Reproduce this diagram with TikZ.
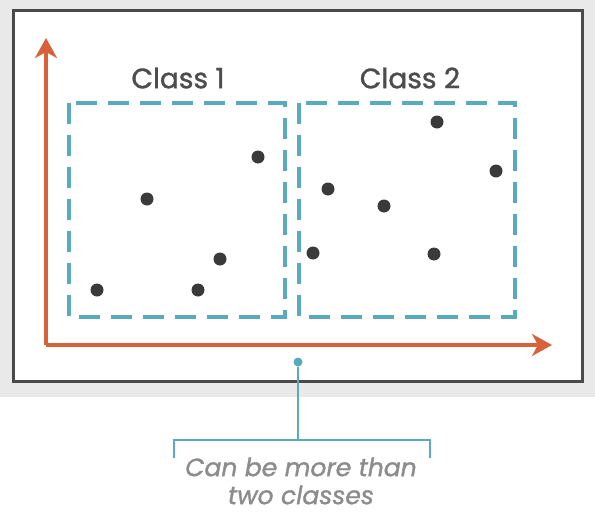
\documentclass[tikz,border=0pt]{standalone}
\usepackage{fontspec}
\setmainfont{Poppins}[FakeBold=1.3]
\usetikzlibrary{arrows.meta,positioning}
\definecolor{axisorange}{HTML}{D8613C}
\definecolor{classteal}{HTML}{5AAABD}
\definecolor{dotgray}{HTML}{3A3A3A}
\definecolor{framegray}{HTML}{4A4A4A}
\definecolor{bggray}{HTML}{E9E9E9}
\definecolor{notegray}{HTML}{8C8C8C}
\definecolor{labelgray}{HTML}{4D4D4D}
\tikzset{
  pointstyle/.style={circle, inner sep = 0pt, minimum size = 13pt, fill = dotgray},
  classbox/.style={draw = classteal, line width = 3.2pt, dash pattern = on 21pt off 11pt},
  axisline/.style={line width = 3.2pt, axisorange, -{Stealth[length=20pt,width=22pt,inset=6pt]}},
  calloutline/.style={line width = 2.8pt, classteal},
  classlabel/.style={font = \fontsize{28}{32}\selectfont, text = labelgray}
}

\begin{document}
\begin{tikzpicture}[x=1pt, y=-1pt]
    \useasboundingbox (0,0) rectangle (595,525);
    \fill[bggray] (0,0) rectangle (595,397);
    \draw[framegray, line width = 3pt, fill = white] (13,10) rectangle (582,381);
    % ---------------------
    \coordinate (O) at (46,345);
    \coordinate (Ytop) at (46,38);
    \coordinate (Xend) at (552,345);
    \draw[axisline] (O) -- (Ytop);
    \draw[axisline] (O) -- (Xend);
    % ---------------------
    \draw[classbox] (69,103) rectangle (285,317);
    \draw[classbox] (299,103) rectangle (515,317);
    \node[classlabel] (lab1) at (178,78) {Class 1};
    \node[classlabel] (lab2) at (410,78) {Class 2};
    % ---------------------
    \path[every node/.style=pointstyle]
    (97,290) node (p1) {}
    (147,199) node (p2) {}
    (220,259) node (p3) {}
    (198,290) node (p4) {}
    (258,157) node (p5) {}
    (437,122) node (q1) {}
    (496,171) node (q2) {}
    (328,189) node (q3) {}
    (384,206) node (q4) {}
    (313,253) node (q5) {}
    (434,254) node (q6) {};
    % ---------------------
    \node[circle, inner sep = 0pt, minimum size = 9pt, fill = classteal] (pin) at (298,362) {};
    \coordinate (brL) at (174,458);
    \coordinate (brR) at (430,458);
    \coordinate (brM) at (298,440);
    \draw[calloutline] (pin) -- (brM);
    \draw[calloutline] (brL) |- (brM) -| (brR);
    \node[font = \fontsize{25}{28}\selectfont\itshape, text = notegray, align = center]
      (note) at (301,481) {Can be more than\\two classes};
\end{tikzpicture}
\end{document}
